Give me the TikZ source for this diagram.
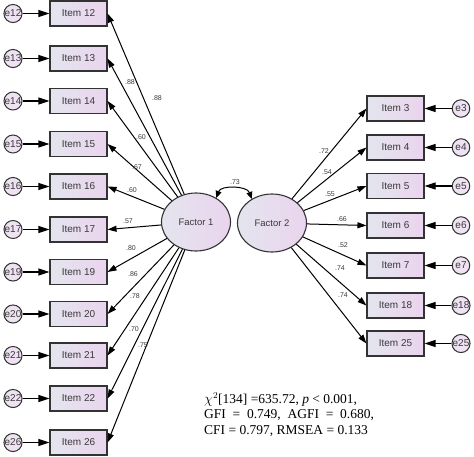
\documentclass[tikz,border=0pt]{standalone}
\usepackage{fontspec}
\setmainfont{Liberation Serif}
\setsansfont{Liberation Sans}
\usetikzlibrary{arrows.meta,shapes.geometric}
\definecolor{boxL}{HTML}{E4E5EE}
\definecolor{boxR}{HTML}{EAD4EE}
\definecolor{errfill}{HTML}{EFE2F2}
\definecolor{edgecol}{HTML}{333333}
\definecolor{txtcol}{HTML}{3A3A3A}
\begin{document}
\begin{tikzpicture}[x=1pt,y=-1pt,
  itembox/.style={draw=edgecol, line width=1.1pt, left color=boxL, right color=boxR,
    minimum width=57pt, minimum height=25pt, inner sep=0pt,
    font=\sffamily\fontsize{10}{12}\selectfont, text=txtcol},
  errc/.style={circle, draw=edgecol, line width=1pt, fill=errfill, minimum size=18pt,
    inner sep=0pt, font=\sffamily\fontsize{10}{11}\selectfont, text=txtcol},
  errcr/.style={errc, minimum size=17.5pt},
  factor/.style={ellipse, draw=edgecol, line width=1.1pt, left color=boxL, right color=boxR,
    minimum width=69pt, minimum height=58pt, inner sep=0pt,
    font=\sffamily\fontsize{9.5}{11}\selectfont, text=txtcol},
  loadarrow/.style={-{Triangle[length=9pt,width=6pt]}, line width=1pt, black},
  errarrow/.style={-{Triangle[length=11pt,width=7pt]}, line width=1.1pt, black},
  corrarrow/.style={{Triangle[length=7pt,width=6pt]}-{Triangle[length=7pt,width=6pt]}, line width=1pt, black},
  coef/.style={font=\sffamily\fontsize{7}{8}\selectfont, text=txtcol, inner sep=0pt}
]
\useasboundingbox (0,0) rectangle (474,456);

\node[factor] (F1) at (196,222) {Factor 1};
\node[factor] (F2) at (272,223) {Factor 2};

\foreach \n/\y in {12/13.5, 13/58.5, 14/101, 15/144, 16/186.5, 17/229.5, 19/272, 20/314, 21/355.5, 22/398.5, 26/442.5} {
  \node[itembox] (I\n) at (78.5,\y) {Item \n};
  \node[errc] (e\n) at (13,\y) {e\n};
  \draw[errarrow] (e\n) -- (I\n);
  \draw[loadarrow] (F1) -- (I\n.east);
}

\foreach \n/\y in {3/108.5, 4/147.5, 5/186, 6/225.5, 7/265.5, 18/305.5, 25/343.5} {
  \node[itembox] (I\n) at (395.5,\y) {Item \n};
  \node[errcr] (e\n) at (461,\y) {e\n};
  \draw[errarrow] (e\n) -- (I\n);
  \draw[loadarrow] (F2) -- (I\n.west);
}

\draw[corrarrow] (F1.50) to[out=70,in=110] (F2.130);
\node[coef] (c73) at (235,182) {.73};

% left loadings
\node[coef] (l13) at (130,82) {.88};
\node[coef] (l12) at (157,98) {.88};
\node[coef] (l14) at (141,137) {.60};
\node[coef] (l15) at (137,167) {.67};
\node[coef] (l16) at (132,190) {.60};
\node[coef] (l17) at (128,221) {.57};
\node[coef] (l19) at (131,248) {.80};
\node[coef] (l20) at (133,274) {.86};
\node[coef] (l21) at (135,296) {.78};
\node[coef] (l22) at (134,329) {.70};
\node[coef] (l26) at (143,345) {.75};

% right loadings
\node[coef] (r3) at (324,151) {.72};
\node[coef] (r4) at (327,172) {.54};
\node[coef] (r5) at (330,194) {.55};
\node[coef] (r6) at (342,219) {.66};
\node[coef] (r7) at (343,245) {.52};
\node[coef] (r18) at (340,268) {.74};
\node[coef] (r25) at (343,295) {.74};

\node[anchor=north west, align=left, inner sep=0pt,
  font=\fontsize{13.5}{15.5}\selectfont] (stats) at (204,392)
  {$\chi^{2}$[134] =635.72, \textit{p} < 0.001,\\
   GFI~~=~~0.749,~~AGFI~~=~~0.680,\\
   CFI = 0.797, RMSEA = 0.133};
\end{tikzpicture}
\end{document}
